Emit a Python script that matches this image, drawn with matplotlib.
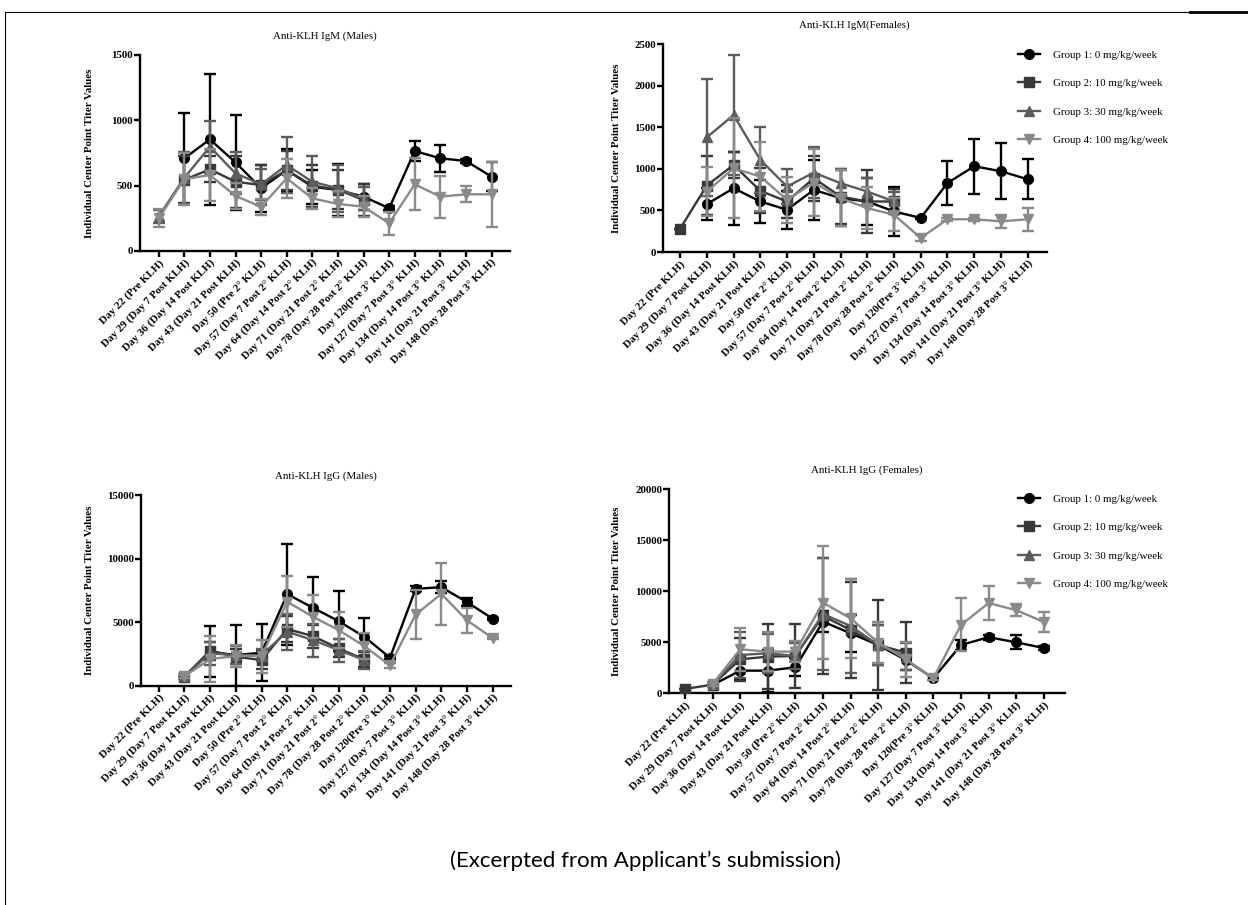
import numpy as np
import matplotlib
matplotlib.use("Agg")
import matplotlib.pyplot as plt
from matplotlib.lines import Line2D

nan = np.nan

days = [
    "Day 22 (Pre KLH)",
    "Day 29 (Day 7 Post KLH)",
    "Day 36 (Day 14 Post KLH)",
    "Day 43 (Day 21 Post KLH)",
    "Day 50 (Pre 2° KLH)",
    "Day 57 (Day 7 Post 2° KLH)",
    "Day 64 (Day 14 Post 2° KLH)",
    "Day 71 (Day 21 Post 2° KLH)",
    "Day 78 (Day 28 Post 2° KLH)",
    "Day 120(Pre 3° KLH)",
    "Day 127 (Day 7 Post 3° KLH)",
    "Day 134 (Day 14 Post 3° KLH)",
    "Day 141 (Day 21 Post 3° KLH)",
    "Day 148 (Day 28 Post 3° KLH)",
]
groups = [
    "Group 1: 0 mg/kg/week",
    "Group 2: 10 mg/kg/week",
    "Group 3: 30 mg/kg/week",
    "Group 4: 100 mg/kg/week",
]
late = [nan] * 5

# Anti-KLH IgM (Males): mean / SD per group
igm_m_mean = [
    [nan, 709, 854, 678, 480, 620, 492, 467, 416, 327, 765, 709, 689, 569],
    [nan, 545, 625, 530, 505, 618, 500, 470, 390] + late,
    [265, 560, 798, 594, 510, 658, 530, 480, 400] + late,
    [250, 550, 581, 421, 339, 556, 403, 360, 339, 212, 510, 416, 434, 434],
]
igm_m_sd = [
    [nan, 350, 500, 365, 180, 160, 130, 200, 100, 15, 80, 105, 15, 110],
    [nan, 180, 100, 200, 150, 150, 160, 150, 120] + late,
    [50, 200, 200, 160, 120, 215, 200, 180, 90] + late,
    [70, 200, 200, 100, 60, 150, 80, 100, 80, 90, 200, 160, 60, 250],
]

# Anti-KLH IgM (Females)
igm_f_mean = [
    [nan, 576, 768, 608, 508, 748, 648, 608, 488, 410, 831, 1032, 972, 875],
    [280, 800, 1048, 736, 608, 888, 668, 608, 608] + late,
    [nan, 1380, 1648, 1108, 788, 956, 828, 728, 608] + late,
    [nan, 728, 1008, 908, 628, 836, 648, 528, 448, 169, 394, 394, 369, 394],
]
igm_f_sd = [
    [nan, 190, 440, 260, 230, 360, 340, 280, 300, 10, 265, 330, 335, 240],
    [0, 350, 160, 270, 200, 270, 330, 380, 150] + late,
    [nan, 700, 720, 400, 210, 310, 170, 160, 120] + late,
    [nan, 300, 600, 420, 280, 400, 340, 250, 200, 40, 20, 20, 80, 140],
]

# Anti-KLH IgG (Males)
igg_m_mean = [
    [nan, 707, 2672, 2410, 2594, 7205, 6130, 5083, 3851, 2199, 7618, 7749, 6571, 5262],
    [nan, 720, 2750, 2280, 2017, 4454, 3904, 2934, 2070] + late,
    [nan, 730, 2540, 2410, 2410, 4244, 3590, 2803, 2017] + late,
    [nan, 740, 2096, 2332, 2332, 6602, 5423, 4375, 3118, 1597, 5602, 7226, 5131, 3744],
]
igg_m_sd = [
    [nan, 100, 2000, 2400, 2250, 3980, 2440, 2360, 1500, 100, 200, 450, 300, 100],
    [nan, 80, 700, 600, 700, 1000, 900, 700, 600] + late,
    [nan, 100, 900, 700, 500, 1400, 1300, 900, 700] + late,
    [nan, 100, 1800, 860, 1300, 2000, 1700, 1400, 1000, 200, 1950, 2450, 950, 100],
]

# Anti-KLH IgG (Females)
igg_f_mean = [
    [nan, 817, 2222, 2222, 2549, 7026, 5882, 4739, 3268, 1471, 4735, 5500, 5000, 4440],
    [425, 850, 3333, 3595, 3660, 7582, 6209, 4739, 3987] + late,
    [nan, 870, 3758, 3922, 3660, 7778, 6601, 4739, 3600] + late,
    [nan, 900, 4314, 4085, 4085, 8889, 7353, 4967, 3333, 1471, 6700, 8850, 8150, 7000],
]
igg_f_sd = [
    [nan, 150, 900, 2050, 900, 1000, 1800, 2000, 1000, 200, 500, 250, 700, 200],
    [0, 150, 2100, 3200, 3100, 5700, 4700, 4400, 3000] + late,
    [nan, 150, 2300, 1900, 1300, 5450, 4600, 2000, 1300] + late,
    [nan, 150, 2100, 1900, 1000, 5550, 3900, 2000, 1700, 200, 2600, 1700, 600, 1000],
]

colors = ["#000000", "#383838", "#5c5c5c", "#8a8a8a"]
markers = ["o", "s", "^", "v"]

W, H = 1248, 905
fig = plt.figure(figsize=(W / 100, H / 100), dpi=100)
serif = ["Liberation Serif", "DejaVu Serif"]


def px_rect(x0, x1, ytop, ybot):
    return [x0 / W, 1 - ybot / H, (x1 - x0) / W, (ybot - ytop) / H]


def panel(rect, xlim, ymax, ystep, mean, sd, title, ylab_x, legend_top=None):
    ax = fig.add_axes(rect)
    x = np.arange(len(days))
    for g in range(4):
        ax.errorbar(
            x, mean[g], yerr=sd[g], color=colors[g], marker=markers[g],
            ms=7, lw=1.7, elinewidth=1.7, capsize=4, capthick=1.7,
            zorder=3 + g,
        )
    ax.set_xlim(*xlim)
    ax.set_ylim(0, ymax)
    ax.set_yticks(np.arange(0, ymax + 1, ystep))
    ax.set_xticks(x)
    ax.set_xticklabels(days, rotation=45, ha="right", rotation_mode="anchor",
                       family=serif, fontweight="bold", fontsize=7.8)
    for lab in ax.get_yticklabels():
        lab.set_family(serif)
        lab.set_fontweight("bold")
        lab.set_fontsize(7.8)
    for s in ["top", "right"]:
        ax.spines[s].set_visible(False)
    for s in ["left", "bottom"]:
        ax.spines[s].set_linewidth(1.7)
    ax.tick_params(width=1.7, length=4, pad=1)
    ax.set_title(title, family=serif, fontsize=7.8, pad=12)
    ax.set_ylabel("Individual Center Point Titer Values", family=serif,
                  fontweight="bold", fontsize=7.8)
    ax.yaxis.set_label_coords(ylab_x, 0.5)
    if legend_top is not None:
        handles = [
            Line2D([], [], color=colors[g], marker=markers[g], ms=7, lw=1.7)
            for g in range(4)
        ]
        ax.legend(handles, groups, loc="upper left",
                  bbox_to_anchor=(1018 / W, legend_top),
                  bbox_transform=fig.transFigure, frameon=False,
                  prop={"family": serif, "size": 7.8}, borderpad=0,
                  borderaxespad=0, handlelength=2.0, handletextpad=1.2,
                  labelspacing=1.75)
    return ax


panel(px_rect(140, 510, 55, 251), (-0.73, 13.72), 1500, 500,
      igm_m_mean, igm_m_sd, "Anti-KLH IgM (Males)", -0.125)
panel(px_rect(662.7, 1046.7, 44.3, 252), (-0.65, 13.71), 2500, 500,
      igm_f_mean, igm_f_sd, "Anti-KLH IgM(Females)", -0.108,
      legend_top=1 - 50 / H)
panel(px_rect(141, 511, 495, 685.7), (-0.69, 13.71), 15000, 5000,
      igg_m_mean, igg_m_sd, "Anti-KLH IgG (Males)", -0.127)
panel(px_rect(669, 1065, 489.3, 693.3), (-0.58, 13.77), 20000, 5000,
      igg_f_mean, igg_f_sd, "Anti-KLH IgG (Females)", -0.121,
      legend_top=1 - 494 / H)

# page border
fig.add_artist(Line2D([5 / W, 1], [1 - 12 / H, 1 - 12 / H], color="k", lw=0.8))
fig.add_artist(Line2D([1190 / W, 1], [1 - 12 / H, 1 - 12 / H], color="k", lw=2))
fig.add_artist(Line2D([5 / W, 5 / W], [0, 1 - 12 / H], color="k", lw=0.8))

fig.text(645 / W, 1 - 861 / H, "(Excerpted from Applicant\u2019s submission)",
         ha="center", va="center", fontsize=16, family=["Lato", "DejaVu Sans"])

fig.savefig("out.png", dpi=100)
